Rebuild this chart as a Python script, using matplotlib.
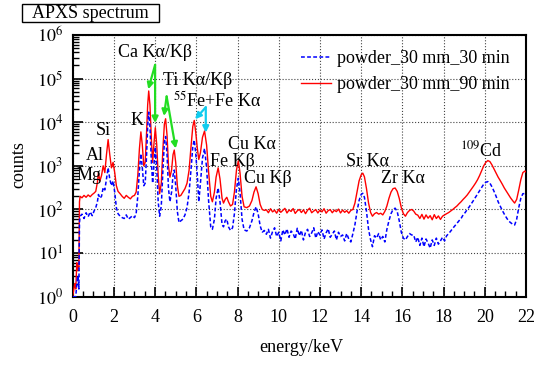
import numpy as np
import matplotlib
matplotlib.use("Agg")
import matplotlib.pyplot as plt
from matplotlib.ticker import LogLocator, MultipleLocator, NullFormatter
from matplotlib.patches import Rectangle

plt.rcParams['font.family'] = ['Liberation Serif', 'DejaVu Serif']
plt.rcParams['mathtext.fontset'] = 'stix'
plt.rcParams['font.size'] = 13

# spectrum (energy in keV, counts)
energy = [0.00, 0.10, 0.15, 0.20, 0.25, 0.30, 0.33, 0.36, 0.45, 0.55, 0.65, 0.75, 0.85, 0.95,
          1.05, 1.12, 1.20, 1.25, 1.32, 1.40, 1.48, 1.56, 1.64, 1.72, 1.80, 1.88, 1.96, 2.04,
          2.12, 2.20, 2.30, 2.40, 2.50, 2.60, 2.70, 2.80, 2.90, 3.00, 3.08, 3.16, 3.24, 3.31,
          3.38, 3.45, 3.52, 3.58, 3.64, 3.69, 3.75, 3.82, 3.88, 3.94, 4.01, 4.08, 4.15, 4.22,
          4.30, 4.38, 4.45, 4.51, 4.58, 4.65, 4.72, 4.80, 4.87, 4.93, 5.00, 5.08, 5.16, 5.25,
          5.35, 5.45, 5.55, 5.65, 5.75, 5.83, 5.90, 5.97, 6.05, 6.12, 6.20, 6.30, 6.40, 6.50,
          6.60, 6.70, 6.78, 6.88, 6.96, 7.06, 7.15, 7.25, 7.32, 7.40, 7.48, 7.56, 7.66, 7.76,
          7.85, 7.95, 8.04, 8.12, 8.22, 8.32, 8.45, 8.58, 8.70, 8.80, 8.90, 9.00, 9.10, 9.20,
          9.30, 9.40, 9.50, 9.60, 9.70, 9.80, 9.90, 10.00, 10.10, 10.20, 10.30, 10.40, 10.50,
          10.60, 10.70, 10.80, 10.90, 11.00, 11.10, 11.20, 11.30, 11.40, 11.50, 11.60, 11.70,
          11.80, 11.90, 12.00, 12.10, 12.20, 12.30, 12.40, 12.50, 12.60, 12.70, 12.80, 12.90,
          13.00, 13.10, 13.20, 13.30, 13.40, 13.50, 13.60, 13.70, 13.80, 13.90, 14.00, 14.08,
          14.16, 14.26, 14.36, 14.46, 14.55, 14.65, 14.75, 14.85, 14.95, 15.05, 15.15, 15.25,
          15.35, 15.45, 15.55, 15.65, 15.75, 15.85, 15.95, 16.05, 16.15, 16.25, 16.35, 16.45,
          16.55, 16.65, 16.75, 16.85, 16.95, 17.05, 17.15, 17.25, 17.35, 17.45, 17.55, 17.65,
          17.75, 17.85, 17.95, 18.05, 18.15, 18.25, 18.35, 18.45, 18.55, 18.65, 18.75, 18.85,
          18.95, 19.05, 19.15, 19.25, 19.35, 19.45, 19.55, 19.65, 19.75, 19.85, 19.95, 20.05,
          20.15, 20.25, 20.35, 20.45, 20.55, 20.65, 20.75, 20.85, 20.95, 21.05, 21.15, 21.25,
          21.35, 21.45, 21.55, 21.65, 21.75, 21.85, 21.95, 22.00]

counts_90min = [1, 2, 1.5, 6, 4, 5, 150, 200, 185, 210, 190, 215, 196, 220,
                240, 260, 420, 700, 450, 600, 1000, 700, 1800, 4000, 1800, 900, 1200, 700,
                350, 260, 230, 200, 180, 210, 190, 175, 200, 210, 250, 600, 2500, 6000,
                3000, 1000, 1200, 5000, 25000, 52000, 25000, 4000, 1200, 3000, 7500, 3000, 600, 230,
                400, 2500, 9000, 12000, 5000, 1000, 550, 800, 1800, 2300, 1200, 350, 200, 210,
                250, 300, 400, 800, 3000, 8000, 11000, 6000, 2500, 1400, 2000, 4500, 6300, 3000,
                700, 200, 150, 250, 550, 900, 500, 180, 140, 170, 190, 150, 120, 130,
                250, 800, 1300, 700, 200, 115, 110, 120, 160, 250, 330, 230, 130, 100,
                95, 98, 84, 104, 88, 96, 82, 101, 86, 95, 106, 83, 97,
                90, 105, 81, 93, 100, 85, 98, 80, 96, 107, 84, 92,
                99, 83, 97, 88, 104, 82, 94, 99, 84, 96, 89, 102,
                83, 97, 86, 94, 82, 95, 100, 140, 250, 450, 620, 680,
                560, 300, 140, 85, 70, 80, 85, 78, 82, 75, 90, 120,
                180, 250, 300, 310, 260, 180, 110, 80, 70, 85, 95, 100,
                92, 78, 74, 62, 77, 60, 75, 63, 72, 58, 76, 62,
                71, 59, 70, 75, 80, 85, 92, 100, 110, 120, 135, 150,
                170, 190, 215, 250, 290, 340, 400, 480, 600, 780, 1000, 1200,
                1320, 1250, 1050, 850, 680, 550, 460, 380, 310, 260, 220, 185,
                160, 140, 170, 280, 480, 700, 760, 720]

counts_30min = [1, 1, 1, 2, 3, 1.5, 50, 70, 78, 62, 84, 68, 88, 72,
                95, 110, 150, 220, 180, 200, 320, 280, 500, 900, 500, 350, 450, 250,
                110, 80, 70, 65, 62, 75, 60, 65, 72, 65, 80, 200, 800, 1900,
                900, 350, 400, 1500, 8000, 17000, 8000, 1200, 400, 1000, 2700, 900, 150, 70,
                120, 800, 3500, 4700, 1800, 300, 150, 250, 600, 800, 350, 90, 50, 55,
                60, 75, 110, 250, 900, 2800, 3900, 2000, 600, 150, 400, 1500, 2500, 900,
                150, 40, 35, 60, 180, 310, 150, 45, 40, 55, 60, 40, 33, 38,
                80, 300, 520, 250, 60, 34, 32, 38, 55, 85, 115, 80, 42, 30,
                33, 27, 35, 22, 31, 38, 24, 30, 19, 34, 26, 36, 23,
                32, 28, 21, 37, 25, 33, 20, 30, 35, 24, 29, 38,
                22, 31, 26, 34, 21, 29, 36, 23, 27, 32, 20, 30,
                24, 26, 19, 28, 21, 18, 28, 45, 90, 160, 220, 235,
                190, 90, 35, 20, 14, 25, 22, 28, 20, 24, 18, 35,
                55, 80, 100, 107, 90, 55, 30, 22, 20, 24, 28, 26,
                26, 18, 23, 15, 22, 14, 21, 17, 13, 20, 15, 22,
                16, 19, 23, 19, 25, 28, 32, 37, 42, 48, 55, 62,
                75, 85, 100, 115, 135, 160, 190, 225, 270, 320, 380, 420,
                435, 400, 330, 260, 200, 150, 120, 95, 78, 65, 55, 50,
                46, 44, 60, 110, 180, 230, 230, 210]

series_labels = ['powder_30 mm_30 min', 'powder_30 mm_90 min']

# peak labels: text, energy, counts
peak_names = ['Si', 'Al', 'Mg', 'K', 'Ca K\u03b1/K\u03b2', 'Ti K\u03b1/K\u03b2', '$^{55}$Fe+Fe K\u03b1',
              'Cu K\u03b1', 'Fe K\u03b2', 'Cu K\u03b2', 'Sr K\u03b1', 'Zr K\u03b1', '$^{109}$Cd']
peak_label_e = [1.47, 1.08, 0.79, 3.12, 4.0, 6.08, 7.0, 8.7, 7.73, 9.48, 14.33, 16.03, 19.82]
peak_label_c = [6300, 1700, 590, 10700, 3.9e5, 8.9e4, 3.1e4, 3160, 1290, 500, 1230, 525, 2290]

fig = plt.figure(figsize=(5.4, 3.67), dpi=100)
ax = fig.add_axes([0.1346, 0.1916, 0.8394, 0.7131])

ax.grid(True, which='major', linestyle=':', color='#444444', linewidth=0.8)
ax.set_axisbelow(True)

l90, = ax.plot(energy, counts_90min, color='red', lw=1.0, zorder=3)
l30, = ax.plot(energy, counts_30min, color='blue', lw=1.1, dashes=(2.5, 1.5), zorder=4)

ax.set_yscale('log')
ax.set_xlim(0, 22)
ax.set_ylim(1, 1e6)
ax.xaxis.set_major_locator(MultipleLocator(2))
ax.xaxis.set_minor_locator(MultipleLocator(0.5))
ax.yaxis.set_minor_locator(LogLocator(base=10, subs=np.arange(2, 10), numticks=20))
ax.yaxis.set_minor_formatter(NullFormatter())
ax.set_yticks([1, 10, 100, 1e3, 1e4, 1e5, 1e6])
ax.set_yticklabels(['$10^{%d}$' % i for i in range(7)])
ax.tick_params(which='both', direction='in', top=False, right=False)
ax.tick_params(which='major', length=7, width=1.2)
ax.tick_params(which='minor', length=4, width=1.0)
ax.tick_params(axis='y', pad=7)
ax.tick_params(axis='x', pad=9)
for s in ax.spines.values():
    s.set_linewidth(1.5)

for name, e, c in zip(peak_names, peak_label_e, peak_label_c):
    ax.text(e, c, name, ha='center', va='center', fontsize=13, zorder=6)

green = '#22dd22'
cyan = '#11ccee'
arrows = [((4.0, 2.06e5), (3.67, 5.7e4), green), ((4.0, 2.06e5), (4.0, 9600), green),
          ((4.56, 3.9e4), (4.43, 1.39e4), green), ((4.56, 3.9e4), (5.0, 2500), green),
          ((6.46, 2.2e4), (5.94, 1.17e4), cyan), ((6.46, 2.2e4), (6.46, 5770), cyan)]
for start, end, col in arrows:
    ax.annotate('', xy=end, xytext=start,
                arrowprops=dict(arrowstyle='-|>', color=col, lw=1.6, mutation_scale=9,
                                shrinkA=0, shrinkB=0), zorder=7)

ax.legend([l30, l90], series_labels, loc='upper left', bbox_to_anchor=(301 / 540, 1 - 50 / 367),
          bbox_transform=fig.transFigure, frameon=False, fontsize=13,
          handlelength=1.65, handletextpad=0.35, labelspacing=0.5,
          borderpad=0, borderaxespad=0)

fig.patches.append(Rectangle((21.7 / 540, 1 - 21.7 / 367), 137.6 / 540, 17.7 / 367,
                             transform=fig.transFigure, fill=False, ec='black', lw=1.0))
fig.text(90.5 / 540, 1 - 13 / 367, 'APXS spectrum', ha='center', va='center', fontsize=13)
fig.text(19 / 540, 1 - 165 / 367, 'counts', rotation=90, ha='center', va='center', fontsize=13)
fig.text(301 / 540, 1 - 348 / 367, 'energy/keV', ha='center', va='center', fontsize=13)

fig.savefig('out.png', dpi=100)
